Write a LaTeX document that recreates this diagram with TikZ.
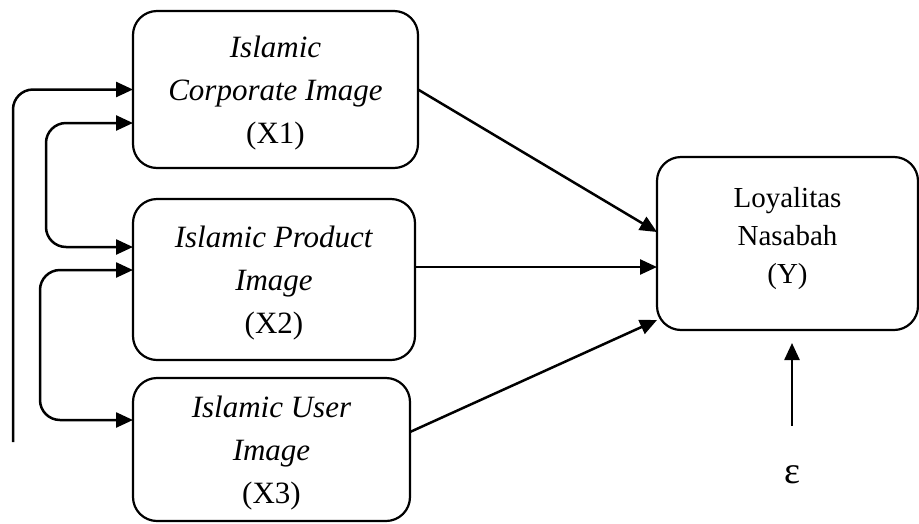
\documentclass[tikz,border=0pt]{standalone}
\usepackage{fontspec}
\setmainfont{Liberation Serif}
\usetikzlibrary{arrows.meta}

\begin{document}
\begin{tikzpicture}[x=1pt, y=-1pt,
    box/.style={draw, line width=2.2pt, rounded corners=24pt, align=center, outer sep=0pt, inner sep=0pt, text depth=-3pt, font=\fontsize{31}{43}\selectfont},
    arr/.style={line width=2.5pt, -{Triangle[length=17pt, width=15pt]}},
    dbl/.style={line width=2.5pt, {Triangle[length=17pt, width=15pt]}-{Triangle[length=17pt, width=15pt]}, rounded corners=20pt}]
    \useasboundingbox (0,0) rectangle (919,523);
    \node[box, minimum width=285pt, minimum height=157pt] (x1) at (275.5,89.5) {\textit{Islamic}\\\textit{Corporate Image}\\(X1)};
    \node[box, minimum width=282pt, minimum height=161pt] (x2) at (274,279.5) {\textit{Islamic Product}\\\textit{Image}\\(X2)};
    \node[box, minimum width=277pt, minimum height=143pt] (x3) at (271.5,449.5) {\textit{Islamic User}\\\textit{Image}\\(X3)};
    \node[box, minimum width=261pt, minimum height=173pt, text depth=16pt, font=\fontsize{29}{38}\selectfont] (y) at (787.5,243.5) {Loyalitas\\Nasabah\\(Y)};
    \node[inner sep=0pt, font=\fontsize{38}{40}\selectfont] (eps) at (792,475) {ε};
    % links on the left
    \coordinate (a0) at (13,442);
    \draw[arr, rounded corners=20pt] (a0) |- (x1.west);
    \draw[dbl] ([yshift=-33.5pt]x1.west) -- ++(-87,0) |- ([yshift=32.5pt]x2.west);
    \draw[dbl] ([yshift=9.5pt]x2.west) -- ++(-93,0) |- ([yshift=29.5pt]x3.west);
    % paths to Y
    \draw[arr] (x1.east) -- ([yshift=11.5pt]y.west);
    \draw[arr] ([yshift=12.5pt]x2.east) -- ([yshift=-23.5pt]y.west);
    \draw[arr] ([yshift=17.5pt]x3.east) -- ([yshift=-76.5pt]y.west);
    \coordinate (yin) at (eps.north |- y.south);
    \draw[arr] ([yshift=40pt]eps.north) -- ([yshift=-13pt]yin);
\end{tikzpicture}
\end{document}
